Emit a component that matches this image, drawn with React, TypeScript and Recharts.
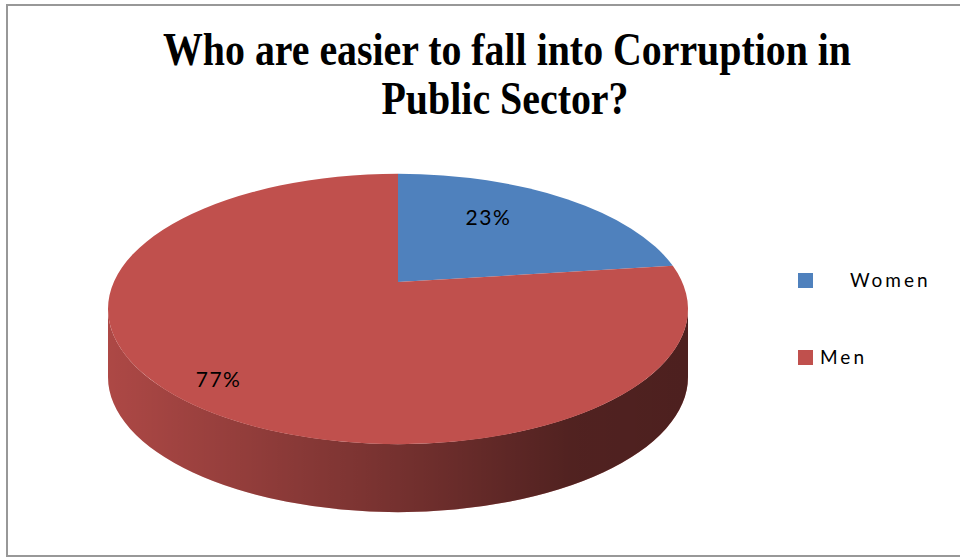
import React from "react";
import { PieChart, Pie, Cell, Legend } from "recharts";

const categories = ["Women", "Men"];
const shares = [23, 77];
const sliceColors = ["#4F81BD", "#C0504D"];
const titleLines = ["Who are easier to fall into Corruption in", "Public Sector?"];

const data = categories.map((name, i) => ({ name, value: shares[i] }));

// fake 3D: the disc is an ellipse seen from above, apex sits a bit higher
const TILT = 0.466;
const LIFT = 0.093;
const DEPTH = 68;
const RAD = Math.PI / 180;

type Pt = { x: number; y: number };

// where the ray from the apex at clock angle theta meets the top ellipse
function rim(cx: number, cy: number, rx: number, theta: number): Pt {
  const ry = rx * TILT;
  const ay = cy - rx * LIFT;
  const dx = rx * Math.sin(theta * RAD);
  const dy = -ry * Math.cos(theta * RAD);
  const u = dx / rx;
  const v = dy / ry;
  const w = (ay - cy) / ry;
  const a = u * u + v * v;
  const b = 2 * v * w;
  const c = w * w - 1;
  const t = (-b + Math.sqrt(b * b - 4 * a * c)) / (2 * a);
  return { x: cx + dx * t, y: ay + dy * t };
}

function paramOf(cx: number, cy: number, rx: number, p: Pt) {
  const ry = rx * TILT;
  let phi = Math.atan2((p.x - cx) / rx, -(p.y - cy) / ry) / RAD;
  if (phi < 0) phi += 360;
  return phi;
}

function onEllipse(cx: number, cy: number, rx: number, phi: number, drop = 0): Pt {
  return {
    x: cx + rx * Math.sin(phi * RAD),
    y: cy - rx * TILT * Math.cos(phi * RAD) + drop,
  };
}

function Slab(props: any) {
  const { cx, cy, outerRadius: rx, startAngle, endAngle, fill, index } = props;
  const ry = rx * TILT;
  const t1 = 90 - startAngle;
  const t2 = 90 - endAngle;
  const p1 = rim(cx, cy, rx, t1);
  const p2 = rim(cx, cy, rx, t2);
  const phi1 = paramOf(cx, cy, rx, p1);
  let phi2 = paramOf(cx, cy, rx, p2);
  if (phi2 <= phi1 + 0.001) phi2 += 360;
  const large = phi2 - phi1 > 180 ? 1 : 0;
  const apex = { x: cx, y: cy - rx * LIFT };

  const top = `M${apex.x},${apex.y} L${p1.x},${p1.y} A${rx},${ry} 0 ${large} 1 ${p2.x},${p2.y} Z`;

  const sides: string[] = [];
  [
    [90, 270],
    [450, 630],
  ].forEach(([w0, w1]) => {
    const lo = Math.max(phi1, w0);
    const hi = Math.min(phi2, w1);
    if (hi - lo > 0.01) {
      const a = onEllipse(cx, cy, rx, lo);
      const b = onEllipse(cx, cy, rx, hi);
      const bd = onEllipse(cx, cy, rx, hi, DEPTH);
      const ad = onEllipse(cx, cy, rx, lo, DEPTH);
      sides.push(
        `M${a.x},${a.y} A${rx},${ry} 0 0 1 ${b.x},${b.y} L${bd.x},${bd.y} A${rx},${ry} 0 0 0 ${ad.x},${ad.y} Z`
      );
    }
  });

  const gid = `side-shade-${index}`;
  return (
    <g>
      <defs>
        <linearGradient id={gid} gradientUnits="userSpaceOnUse" x1={cx - rx} y1={0} x2={cx + rx} y2={0}>
          <stop offset="0%" stopColor="#000" stopOpacity={0.1} />
          <stop offset="45%" stopColor="#000" stopOpacity={0.36} />
          <stop offset="80%" stopColor="#000" stopOpacity={0.58} />
          <stop offset="100%" stopColor="#000" stopOpacity={0.6} />
        </linearGradient>
      </defs>
      {sides.map((d, k) => (
        <g key={k}>
          <path d={d} fill={fill} />
          <path d={d} fill={`url(#${gid})`} />
        </g>
      ))}
      <path d={top} fill={fill} />
    </g>
  );
}

// how far along the ray each label sits (x share, y share)
const labelReach = [
  [0.56, 0.77],
  [0.82, 0.83],
];

function SliceLabel(props: any) {
  const { cx, cy, outerRadius: rx, midAngle, percent, index } = props;
  const ay = cy - rx * LIFT;
  const p = rim(cx, cy, rx, 90 - midAngle);
  const [fx, fy] = labelReach[index] ?? [0.7, 0.7];
  return (
    <text
      x={cx + (p.x - cx) * fx}
      y={ay + (p.y - ay) * fy}
      textAnchor="middle"
      dominantBaseline="central"
      fontFamily="Lato, 'Liberation Sans', sans-serif"
      fontSize={21}
      letterSpacing={1.5}
      fill="#000"
    >
      {`${Math.round(percent * 100)}%`}
    </text>
  );
}

function LegendBox({ payload }: any) {
  const indent = [37, 7];
  const items = [...(payload || [])].sort(
    (a: any, b: any) => categories.indexOf(a.value) - categories.indexOf(b.value)
  );
  return (
    <div style={{ display: "flex", flexDirection: "column" }}>
      {items.map((item: any, i: number) => (
        <div key={i} style={{ display: "flex", alignItems: "center", height: 16, marginBottom: 61 }}>
          <span style={{ width: 15, height: 15, background: item.color ?? sliceColors[i], display: "inline-block" }} />
          <span
            style={{
              marginLeft: indent[i] ?? 7,
              fontFamily: "Lato, 'Liberation Sans', sans-serif",
              fontSize: 19,
              letterSpacing: 3,
              color: "#000",
              lineHeight: "16px",
            }}
          >
            {item.value}
          </span>
        </div>
      ))}
    </div>
  );
}

export default function App() {
  return (
    <div style={{ position: "absolute", left: 0, top: 0, width: 960, height: 558, background: "#fff", overflow: "hidden" }}>
      <div
        style={{
          position: "absolute",
          left: 6,
          top: 4,
          width: 980,
          height: 553,
          border: "2px solid #989898",
          boxSizing: "border-box",
        }}
      />
      <svg width={960} height={140} style={{ position: "absolute", left: 0, top: 0 }}>
        <text
          x={507}
          y={65}
          textAnchor="middle"
          textLength={688}
          lengthAdjust="spacingAndGlyphs"
          fontFamily="'Liberation Serif', 'Times New Roman', serif"
          fontWeight="bold"
          fontSize={46}
        >
          {titleLines[0]}
        </text>
        <text
          x={505}
          y={114}
          textAnchor="middle"
          textLength={247}
          lengthAdjust="spacingAndGlyphs"
          fontFamily="'Liberation Serif', 'Times New Roman', serif"
          fontWeight="bold"
          fontSize={46}
        >
          {titleLines[1]}
        </text>
      </svg>
      <div style={{ position: "absolute", left: 0, top: 0 }}>
        <PieChart width={960} height={558} margin={{ top: 0, right: 0, bottom: 0, left: 0 }}>
          <Pie
            data={data}
            dataKey="value"
            nameKey="name"
            cx={398}
            cy={309}
            outerRadius={290}
            startAngle={90}
            endAngle={-270}
            stroke="none"
            isAnimationActive={false}
            shape={Slab}
            activeShape={Slab}
            inactiveShape={Slab}
            label={SliceLabel}
            labelLine={false}
          >
            {data.map((d, i) => (
              <Cell key={d.name} fill={sliceColors[i]} />
            ))}
          </Pie>
          <Legend
            layout="vertical"
            align="right"
            verticalAlign="middle"
            content={LegendBox}
            wrapperStyle={{ left: 798, top: 272, width: 150, right: "auto", bottom: "auto" }}
          />
        </PieChart>
      </div>
    </div>
  );
}
